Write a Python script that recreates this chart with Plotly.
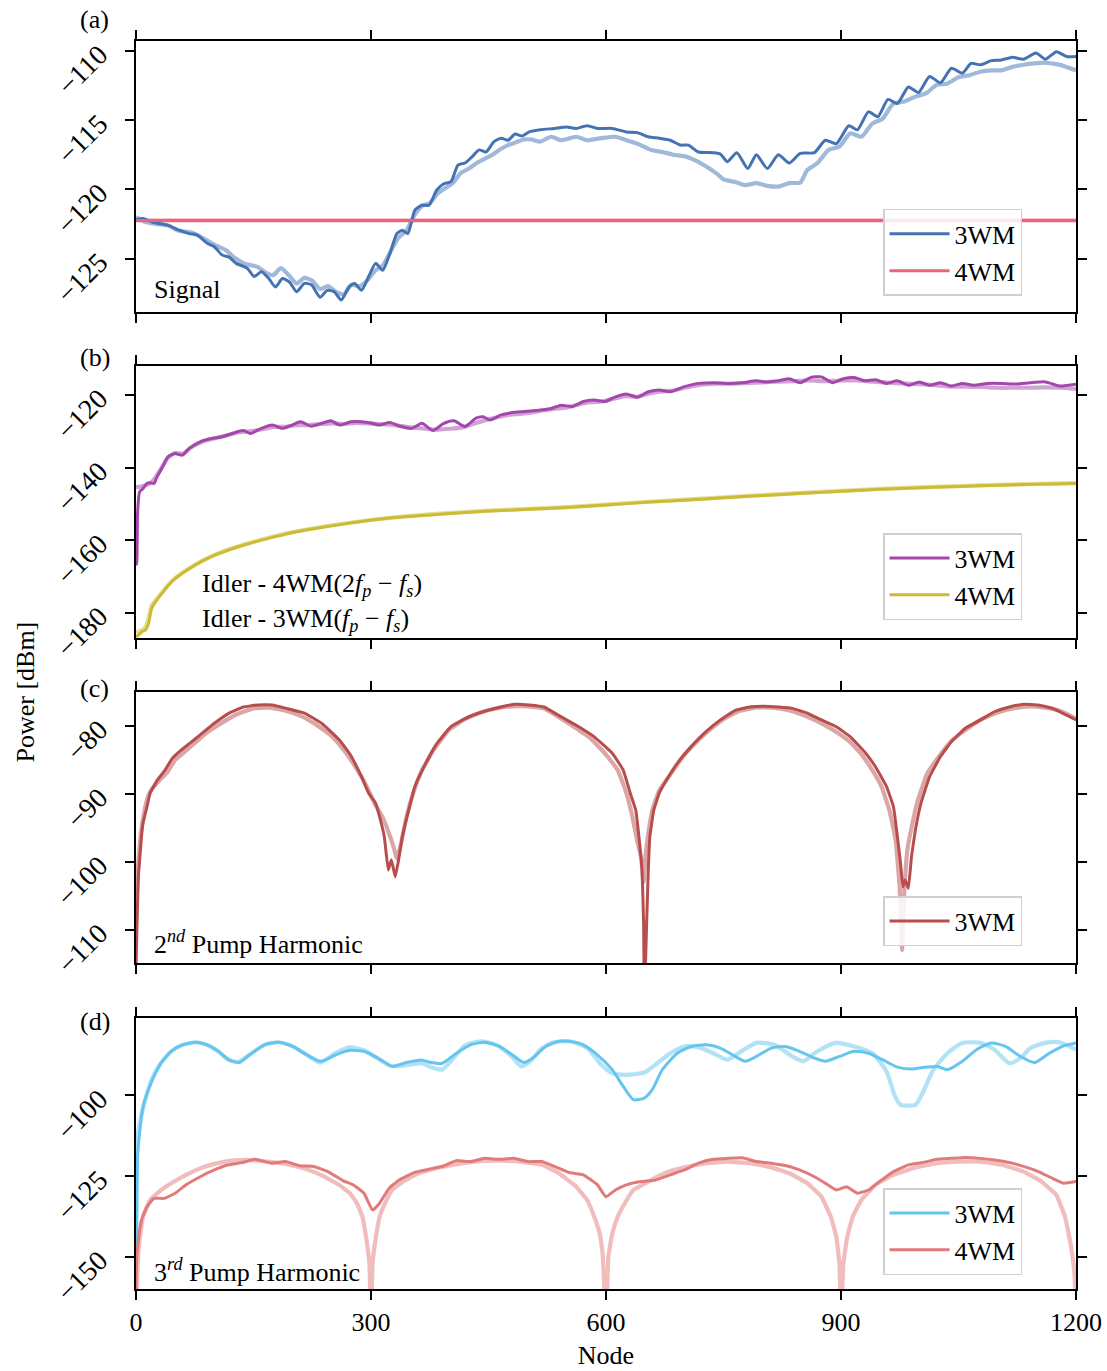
import plotly.graph_objects as go
from plotly.subplots import make_subplots

# ---------------- data (node, power dBm) ----------------
SIGNAL_3WM = [(0,-122.2),(9,-122.1),(23,-122.4),(41,-122.6),(55,-122.95),(68,-123.2),(78,-123.3),(91,-123.9),
    (100,-124.15),(110,-124.75),(119,-124.9),(128,-125.35),(142,-125.7),(151,-126.3),(160,-125.95),(169,-126.4),
    (178,-127.05),(187,-126.45),(196,-126.7),(205,-127.4),(215,-126.8),(224,-126.9),(235,-127.8),(244,-127.3),
    (253,-127.4),(262,-128.0),(272,-127.05),(279,-126.8),(288,-127.3),(297,-126.3),(306,-125.35),(315,-125.85),
    (324,-124.65),(333,-123.2),(340,-122.95),(347,-123.2),(356,-121.5),(365,-121.15),(374,-121.15),(384,-120.05),
    (393,-119.6),(402,-119.45),(411,-118.25),(420,-118.1),(429,-117.65),(438,-117.15),(447,-117.3),(457,-116.55),
    (466,-116.3),(475,-116.45),(484,-116.0),(493,-116.15),(502,-115.85),(516,-115.7),(534,-115.6),(550,-115.5),
    (562,-115.6),(576,-115.4),(589,-115.6),(608,-115.6),(626,-115.85),(640,-115.9),(654,-116.2),(668,-116.3),
    (682,-116.45),(695,-116.8),(705,-116.8),(718,-117.3),(737,-117.35),(746,-117.45),(755,-118.0),(767,-117.35),
    (781,-118.5),(792,-117.5),(806,-118.5),(820,-117.5),(834,-118.1),(848,-117.4),(866,-117.35),(880,-116.45),
    (894,-116.7),(910,-115.4),(921,-115.7),(935,-114.4),(947,-114.75),(960,-113.5),(972,-113.8),(986,-112.6),
    (999,-113.0),(1013,-111.85),(1027,-112.3),(1041,-111.25),(1055,-111.6),(1066,-110.9),(1078,-111.0),
    (1092,-110.7),(1105,-110.65),(1119,-110.45),(1133,-110.6),(1149,-110.15),(1161,-110.6),(1175,-110.05),
    (1188,-110.4),(1200,-110.4)]
SIGNAL_3WM_REF = [(0,-122.0),(10,-122.3),(25,-122.5),(40,-122.6),(55,-123.0),(70,-123.1),(85,-123.5),(100,-124.0),
    (115,-124.4),(125,-124.9),(140,-125.4),(155,-125.6),(165,-126.0),(175,-126.2),(185,-125.7),(195,-126.2),
    (205,-126.8),(215,-126.4),(225,-126.6),(235,-127.2),(245,-127.0),(255,-127.4),(265,-127.6),(275,-126.9),
    (285,-127.0),(295,-126.6),(305,-125.9),(315,-125.5),(325,-124.5),(335,-123.5),(345,-123.0),(355,-121.9),
    (365,-121.2),(375,-121.0),(385,-120.3),(395,-119.9),(405,-119.5),(415,-118.8),(425,-118.5),(435,-118.1),
    (445,-117.8),(455,-117.5),(465,-117.1),(475,-116.8),(485,-116.6),(495,-116.4),(505,-116.4),(516,-116.55),
    (530,-116.2),(543,-116.45),(562,-116.2),(576,-116.45),(594,-116.3),(612,-116.2),(626,-116.45),(640,-116.7),
    (658,-117.15),(672,-117.3),(686,-117.5),(700,-117.6),(714,-117.9),(728,-118.35),(741,-118.85),(751,-119.3),
    (764,-119.45),(778,-119.7),(792,-119.55),(806,-119.75),(820,-119.8),(834,-119.55),(848,-119.5),(857,-118.6),
    (870,-118.1),(884,-117.15),(898,-116.9),(912,-115.95),(926,-116.2),(940,-115.25),(953,-114.9),(967,-113.8),
    (981,-113.65),(995,-113.3),(1009,-113.05),(1022,-112.45),(1036,-112.35),(1050,-111.9),(1064,-111.75),
    (1078,-111.5),(1092,-111.4),(1105,-111.4),(1119,-111.15),(1133,-111.0),(1147,-110.9),(1161,-110.85),
    (1175,-110.95),(1188,-111.15),(1200,-111.4)]
SIGNAL_4WM = [(0,-122.25),(1200,-122.25)]
SIGNAL_4WM_REF = [(0,-122.25),(1200,-122.25)]

IDLER_3WM = [(0,-167.0),(1,-166.0),(2,-152.7),(4.6,-146.7),(9,-145.8),(14,-144.4),(18,-144.2),(23,-144.4),
    (27,-142.5),(34,-139.8),(41,-137.0),(50,-136.1),(59,-136.6),(68,-134.7),(82,-132.9),(96,-132.0),(110,-131.5),
    (123,-130.6),(137,-129.8),(146,-130.6),(160,-129.2),(174,-128.3),(187,-129.2),(199,-128.3),(210,-127.4),
    (224,-128.6),(237,-127.8),(249,-127.1),(260,-128.3),(274,-127.4),(288,-127.4),(301,-127.8),(311,-128.3),
    (324,-127.6),(338,-128.7),(352,-129.2),(365,-127.8),(379,-129.8),(393,-127.8),(406,-127.1),(420,-128.7),
    (434,-126.4),(443,-126.0),(452,-126.9),(466,-125.5),(479,-124.9),(493,-124.6),(511,-124.3),(530,-123.7),
    (543,-122.8),(557,-123.2),(571,-121.8),(585,-121.4),(599,-121.8),(612,-120.5),(626,-119.7),(640,-120.6),
    (654,-119.1),(668,-118.6),(682,-119.1),(700,-117.7),(718,-116.8),(737,-116.6),(755,-116.8),(774,-116.6),
    (792,-116.1),(806,-116.4),(820,-116.1),(834,-115.5),(848,-116.6),(861,-115.2),(875,-115.0),(889,-116.6),
    (903,-115.5),(917,-115.2),(930,-116.1),(944,-115.8),(958,-116.8),(972,-116.1),(986,-117.3),(1000,-116.4),
    (1013,-117.3),(1027,-116.6),(1041,-117.5),(1055,-116.8),(1069,-117.3),(1087,-116.8),(1105,-116.8),
    (1124,-117.0),(1142,-116.6),(1161,-116.4),(1179,-117.5),(1200,-117.0)]
IDLER_3WM_REF = [(0,-145.5),(10,-145.0),(20,-144.0),(30,-141.0),(40,-137.5),(50,-136.0),(60,-136.2),(70,-134.5),
    (85,-132.8),(100,-132.0),(115,-131.2),(130,-130.3),(145,-130.0),(160,-129.5),(175,-128.8),(190,-128.8),
    (205,-128.3),(220,-128.3),(235,-128.0),(250,-127.8),(265,-128.0),(280,-127.7),(295,-127.8),(310,-128.0),
    (325,-128.2),(340,-128.6),(355,-129.0),(370,-129.3),(385,-129.6),(400,-129.3),(415,-129.0),(430,-128.0),
    (445,-127.0),(460,-126.2),(475,-125.5),(490,-125.2),(505,-124.8),(520,-124.2),(535,-123.8),(550,-123.4),
    (565,-122.6),(580,-122.0),(595,-121.8),(610,-121.0),(625,-120.3),(640,-120.5),(655,-119.6),(670,-119.0),
    (685,-118.8),(700,-118.0),(720,-117.2),(740,-116.9),(760,-116.9),(780,-116.7),(800,-116.5),(820,-116.3),
    (840,-116.2),(860,-116.0),(880,-116.2),(900,-116.0),(920,-116.0),(940,-116.3),(960,-116.6),(980,-116.8),
    (1000,-117.0),(1020,-117.3),(1040,-117.7),(1060,-117.7),(1080,-117.8),(1100,-118.0),(1120,-118.0),
    (1140,-118.0),(1160,-117.9),(1180,-118.0),(1200,-118.3)]
IDLER_4WM = [(0,-186.7),(4,-186.0),(8,-185.2),(12,-184.8),(16,-183.0),(20,-178.8),(25,-177.0),(30,-175.5),
    (35,-174.2),(40,-172.8),(50,-170.6),(60,-169.0),(70,-167.6),(80,-166.3),(90,-165.2),(100,-164.2),
    (120,-162.6),(140,-161.2),(160,-160.0),(180,-158.9),(200,-157.9),(240,-156.4),(280,-155.1),(320,-154.0),
    (360,-153.3),(400,-152.7),(450,-152.0),(500,-151.5),(550,-151.0),(600,-150.3),(650,-149.6),(700,-149.0),
    (750,-148.3),(800,-147.7),(850,-147.1),(900,-146.5),(950,-146.0),(1000,-145.6),(1050,-145.2),(1100,-144.9),
    (1150,-144.6),(1200,-144.4)]
IDLER_4WM_REF = [(0,-185.5),(5,-185.0),(10,-184.5),(15,-182.5),(20,-178.0),(25,-176.6),(30,-175.3),(40,-172.6),
    (50,-170.5),(70,-167.5),(100,-164.1),(140,-161.1),(200,-157.8),(280,-155.0),(360,-153.2),(450,-151.9),
    (550,-150.9),(650,-149.5),(750,-148.2),(850,-147.0),(950,-145.9),(1050,-145.1),(1150,-144.5),(1200,-144.3)]

HARM2_3WM = [(0,-116.0),(1,-110.5),(3,-102.2),(5,-99.2),(7,-96.3),(9,-94.3),(14,-91.9),(18,-89.9),(27,-88.0),
    (37,-86.5),(46,-84.8),(55,-83.8),(68,-82.6),(82,-81.3),(100,-79.6),(119,-78.1),(137,-77.2),(155,-76.9),
    (174,-76.9),(192,-77.4),(215,-78.1),(237,-79.6),(260,-82.1),(274,-84.3),(288,-87.5),(297,-89.9),(306,-91.4),
    (311,-93.4),(317,-96.3),(322,-101.2),(326,-99.7),(331,-102.2),(336,-99.2),(340,-96.3),(347,-92.9),
    (356,-88.9),(370,-85.5),(384,-82.6),(402,-80.1),(420,-78.9),(443,-77.9),(466,-77.2),(484,-76.8),(502,-76.9),
    (521,-77.2),(539,-78.4),(562,-79.9),(585,-81.6),(608,-84.0),(622,-86.5),(631,-89.9),(638,-92.4),(642,-96.3),
    (646,-101.2),(648,-109.1),(649,-120.0),(652,-108.6),(654,-101.2),(656,-96.3),(661,-92.4),(668,-89.9),
    (677,-88.0),(691,-85.5),(709,-83.0),(728,-80.8),(746,-79.1),(765,-77.7),(783,-77.2),(801,-77.1),(820,-77.2),
    (838,-77.4),(857,-78.1),(875,-79.1),(894,-80.1),(912,-81.6),(930,-83.8),(944,-86.0),(958,-88.9),(967,-91.9),
    (972,-96.3),(976,-100.2),(979,-103.7),(982,-102.7),(986,-103.9),(990,-99.2),(995,-95.3),(1002,-91.4),
    (1013,-87.5),(1027,-84.5),(1041,-82.3),(1059,-80.3),(1078,-79.1),(1096,-77.9),(1115,-77.2),(1133,-76.8),
    (1152,-76.9),(1170,-77.4),(1188,-78.4),(1200,-79.1)]
HARM2_3WM_REF = [(0,-108.0),(3,-100.0),(6,-96.0),(10,-93.0),(15,-90.5),(20,-89.3),(30,-88.0),(40,-86.8),
    (50,-85.0),(60,-84.0),(75,-82.5),(90,-81.0),(110,-79.5),(130,-78.2),(150,-77.4),(170,-77.3),(190,-77.7),
    (210,-78.5),(230,-79.8),(250,-81.5),(265,-83.5),(280,-86.0),(295,-89.0),(305,-91.5),(315,-93.5),(322,-95.5),
    (328,-97.5),(333,-99.5),(338,-97.5),(345,-93.5),(355,-89.5),(365,-86.5),(380,-83.5),(400,-80.5),(420,-79.0),
    (440,-78.0),(460,-77.4),(480,-77.1),(500,-77.1),(520,-77.4),(540,-78.7),(560,-80.2),(580,-81.8),(600,-84.2),
    (615,-86.5),(625,-89.5),(633,-93.0),(640,-97.0),(645,-99.5),(648,-103.0),(651,-98.5),(655,-95.0),(660,-92.0),
    (668,-89.5),(680,-87.5),(695,-85.0),(710,-83.0),(730,-80.8),(750,-79.0),(770,-77.8),(790,-77.3),(810,-77.3),
    (830,-77.6),(850,-78.3),(870,-79.3),(890,-80.6),(910,-82.2),(925,-84.0),(940,-86.5),(952,-89.0),(962,-92.5),
    (970,-97.0),(975,-104.0),(978,-113.0),(981,-104.0),(985,-98.0),(990,-95.0),(998,-91.0),(1010,-87.0),
    (1025,-84.5),(1040,-82.3),(1060,-80.5),(1080,-79.0),(1100,-78.0),(1120,-77.4),(1140,-77.1),(1160,-77.3),
    (1180,-77.8),(1200,-78.9)]

HARM3_3WM = [(0,-150.0),(1,-139.6),(2,-118.9),(5,-110.7),(9,-103.4),(16,-98.2),(23,-94.1),(32,-90.0),(45,-86.3),
    (59,-84.3),(77,-83.5),(91,-84.3),(105,-86.3),(118,-88.9),(132,-89.8),(145,-87.4),(164,-84.3),(182,-83.5),
    (200,-84.8),(218,-87.4),(236,-89.4),(255,-87.4),(273,-86.0),(291,-86.3),(309,-88.4),(327,-91.0),(345,-89.8),
    (364,-89.0),(377,-89.8),(391,-90.0),(409,-86.9),(427,-84.3),(445,-83.5),(464,-84.8),(482,-87.7),(495,-89.8),
    (509,-87.9),(523,-84.8),(540,-83.2),(553,-83.2),(571,-84.3),(589,-87.4),(608,-92.0),(622,-97.2),(635,-101.3),
    (649,-100.8),(659,-98.2),(672,-92.0),(691,-86.9),(709,-84.8),(728,-84.3),(746,-85.3),(765,-87.9),(778,-89.4),
    (792,-87.9),(811,-85.3),(829,-84.8),(847,-86.3),(866,-88.4),(880,-89.4),(898,-87.9),(917,-86.3),(935,-86.9),
    (953,-88.9),(972,-91.2),(990,-91.8),(1009,-91.2),(1023,-91.0),(1036,-92.0),(1055,-89.4),(1073,-85.8),
    (1092,-83.7),(1110,-84.8),(1129,-87.9),(1147,-89.8),(1166,-86.9),(1184,-84.6),(1200,-83.7)]
HARM3_3WM_REF = [(0,-135.0),(2,-112.7),(10,-103.0),(20,-95.0),(30,-90.5),(45,-86.3),(60,-84.3),(77,-83.5),
    (90,-84.3),(105,-86.3),(118,-88.9),(130,-89.6),(145,-87.4),(164,-84.3),(182,-83.5),(200,-84.8),(218,-87.4),
    (235,-89.8),(255,-86.8),(273,-85.0),(291,-86.0),(309,-88.6),(325,-90.8),(345,-90.6),(364,-90.0),(380,-91.5),
    (391,-92.0),(405,-88.5),(420,-84.5),(440,-83.2),(460,-84.3),(480,-88.0),(492,-91.0),(505,-89.0),(516,-85.8),
    (530,-83.7),(553,-83.2),(576,-85.3),(594,-90.5),(608,-93.1),(626,-93.6),(649,-92.9),(663,-90.5),(682,-86.9),
    (700,-84.8),(718,-85.0),(737,-86.9),(755,-88.9),(769,-86.9),(792,-83.7),(815,-84.3),(838,-87.9),(852,-89.4),
    (870,-86.3),(893,-83.7),(917,-84.8),(940,-86.9),(958,-92.5),(969,-100.3),(976,-102.9),(995,-102.9),
    (1004,-99.3),(1018,-92.0),(1036,-86.9),(1055,-83.7),(1078,-83.7),(1096,-85.8),(1115,-90.0),(1129,-88.4),
    (1142,-85.3),(1161,-83.7),(1179,-83.5),(1200,-85.8)]
HARM3_4WM = [(0,-160.0),(1,-150.0),(4,-142.8),(7,-138.6),(14,-134.5),(23,-131.9),(36,-131.9),(50,-130.3),
    (64,-127.7),(82,-125.2),(100,-123.1),(118,-121.5),(136,-120.8),(152,-119.8),(173,-121.0),(191,-120.5),
    (209,-121.8),(227,-122.0),(245,-123.6),(264,-126.4),(277,-127.7),(291,-130.3),(302,-135.5),(311,-133.4),
    (323,-128.8),(336,-126.2),(355,-123.9),(373,-122.9),(391,-122.0),(409,-120.2),(427,-120.5),(445,-119.5),
    (464,-119.8),(482,-119.5),(500,-120.5),(518,-120.5),(534,-122.0),(553,-123.9),(571,-124.6),(589,-127.7),
    (600,-131.4),(612,-129.3),(626,-127.7),(645,-126.7),(663,-126.2),(682,-124.6),(700,-123.1),(718,-121.0),
    (737,-119.8),(755,-119.5),(774,-119.3),(792,-120.5),(811,-121.0),(834,-122.0),(847,-123.1),(866,-125.2),
    (880,-127.2),(894,-129.3),(907,-128.3),(921,-130.3),(935,-129.3),(949,-126.7),(967,-123.6),(986,-121.5),
    (1004,-120.8),(1023,-119.8),(1041,-119.5),(1059,-119.2),(1078,-119.5),(1096,-120.0),(1115,-120.8),
    (1133,-122.0),(1152,-123.6),(1170,-125.7),(1184,-127.2),(1200,-126.7)]
HARM3_4WM_REF = [(0,-170.0),(1,-159.3),(4,-145.9),(9,-137.6),(18,-132.4),(32,-129.3),(45,-127.2),(64,-124.6),
    (82,-122.6),(100,-121.2),(123,-120.2),(145,-120.0),(168,-120.5),(191,-121.2),(214,-122.6),(236,-124.6),
    (259,-127.7),(273,-130.3),(282,-133.4),(289,-137.6),(293,-142.8),(298,-152.1),(300,-170.0),(302,-152.1),
    (307,-142.8),(311,-137.6),(318,-133.4),(327,-129.3),(341,-126.7),(359,-124.3),(382,-122.6),(405,-121.5),
    (432,-120.5),(464,-120.2),(491,-120.5),(518,-121.5),(539,-124.0),(562,-128.3),(576,-132.4),(585,-137.6),
    (592,-142.8),(596,-150.0),(600,-170.0),(603,-150.0),(608,-142.8),(615,-137.6),(624,-133.4),(635,-129.3),
    (654,-126.7),(677,-123.9),(700,-122.3),(728,-121.0),(755,-120.5),(783,-121.0),(811,-122.3),(834,-124.1),
    (857,-127.2),(875,-131.4),(887,-137.6),(894,-143.8),(898,-152.1),(900,-170.0),(903,-152.1),(908,-143.8),
    (915,-137.6),(926,-132.4),(944,-127.7),(967,-124.6),(995,-122.3),(1023,-121.0),(1050,-120.5),(1078,-120.5),
    (1105,-121.5),(1133,-123.6),(1156,-126.7),(1175,-130.9),(1186,-137.6),(1193,-145.9),(1198,-155.2),
    (1200,-170.0)]

X_TICKS = [0, 300, 600, 900, 1200]
Y_TICKS = [[-125, -120, -115, -110], [-180, -160, -140, -120], [-110, -100, -90, -80], [-150, -125, -100]]
Y_RANGES = [[-128.86, -109.28], [-187.0, -112.0], [-114.95, -75.04], [-160.0, -76.0]]
PANEL_LABELS = ["(a)", "(b)", "(c)", "(d)"]

# ---------------- styling ----------------
FONT = "Liberation Serif"
FS = 26
C = dict(a3="#4473B3", a4="#E8657B", b3="#A447AC", b4="#CCBB33", c3="#B84D4D", d3="#66C5EE", d4="#E27A7A")


def rgba(hexc, a):
    h = hexc.lstrip("#")
    return "rgba(%d,%d,%d,%.2f)" % (int(h[0:2], 16), int(h[2:4], 16), int(h[4:6], 16), a)


fig = make_subplots(rows=4, cols=1, shared_xaxes=True)


def add(series, row, color, name=None, ref=False, legend=None, smooth=0.6):
    xs = [p[0] for p in series]
    ys = [p[1] for p in series]
    if ref:
        line = dict(color=rgba(color, 0.5), width=4.2)
    else:
        line = dict(color=color, width=3)
    if smooth:
        line.update(shape="spline", smoothing=smooth)
    fig.add_trace(go.Scatter(x=xs, y=ys, mode="lines", line=line, name=name,
                             showlegend=(name is not None), legend=legend,
                             hoverinfo="skip"), row=row, col=1)


add(SIGNAL_3WM_REF, 1, C["a3"], ref=True)
add(SIGNAL_4WM_REF, 1, C["a4"], ref=True, smooth=0)
add(SIGNAL_3WM, 1, C["a3"], "3WM", legend="legend")
add(SIGNAL_4WM, 1, C["a4"], "4WM", legend="legend", smooth=0)

add(IDLER_3WM_REF, 2, C["b3"], ref=True)
add(IDLER_4WM_REF, 2, C["b4"], ref=True)
add(IDLER_3WM, 2, C["b3"], "3WM", legend="legend2")
add(IDLER_4WM, 2, C["b4"], "4WM", legend="legend2")

add(HARM2_3WM_REF, 3, C["c3"], ref=True, smooth=0.3)
add(HARM2_3WM, 3, C["c3"], "3WM", legend="legend3", smooth=0.3)

add(HARM3_3WM_REF, 4, C["d3"], ref=True)
add(HARM3_4WM_REF, 4, C["d4"], ref=True, smooth=0.3)
add(HARM3_3WM, 4, C["d3"], "3WM", legend="legend4")
add(HARM3_4WM, 4, C["d4"], "4WM", legend="legend4", smooth=0.4)

domains = [[0.7829, 1.0], [0.5216, 0.7396], [0.2610, 0.4781], [0.0, 0.2171]]
axis_common = dict(showline=True, linecolor="black", linewidth=2, mirror="ticks", ticks="outside",
                   ticklen=9, tickwidth=2, tickcolor="black", showgrid=False, zeroline=False,
                   automargin=False)
for i in range(4):
    n = "" if i == 0 else str(i + 1)
    fig.layout["yaxis" + n].update(domain=domains[i], range=Y_RANGES[i], tickvals=Y_TICKS[i],
                                   tickangle=-45, ticklabelstandoff=20,
                                   tickfont=dict(family=FONT, size=28, color="black"), **axis_common)
    fig.layout["xaxis" + n].update(range=[0, 1200], tickvals=X_TICKS, showticklabels=(i == 3),
                                   tickfont=dict(family=FONT, size=FS, color="black"), **axis_common)
fig.layout.xaxis4.update(title=dict(text="Node", font=dict(family=FONT, size=FS, color="black"), standoff=10))

leg_common = dict(font=dict(family=FONT, size=FS, color="black"), bgcolor="rgba(255,255,255,0.85)",
                  bordercolor="#d0d0d0", borderwidth=1.5, xanchor="right", yanchor="bottom", x=0.9426,
                  tracegroupgap=0, itemwidth=60)
fig.update_layout(
    legend=dict(y=0.7957, **leg_common),
    legend2=dict(y=0.536, **leg_common),
    legend3=dict(y=0.2748, **leg_common),
    legend4=dict(y=0.0112, **leg_common),
)

ann = []
txt_font = dict(family=FONT, size=FS, color="black")
ann.append(dict(text="Signal", xref="x domain", yref="y domain", x=0.017, y=0.081,
                xanchor="left", yanchor="middle", showarrow=False, font=txt_font))
ann.append(dict(text="Idler - 4WM(2<i>f</i><sub><i>p</i></sub> − <i>f</i><sub><i>s</i></sub>)",
                xref="x2 domain", yref="y2 domain", x=0.068, y=0.195, xanchor="left", yanchor="middle",
                showarrow=False, font=txt_font))
ann.append(dict(text="Idler - 3WM(<i>f</i><sub><i>p</i></sub> − <i>f</i><sub><i>s</i></sub>)",
                xref="x2 domain", yref="y2 domain", x=0.068, y=0.066, xanchor="left", yanchor="middle",
                showarrow=False, font=txt_font))
ann.append(dict(text="2<sup><i>nd</i></sup> Pump Harmonic", xref="x3 domain", yref="y3 domain",
                x=0.017, y=0.075, xanchor="left", yanchor="middle", showarrow=False, font=txt_font))
ann.append(dict(text="3<sup><i>rd</i></sup> Pump Harmonic", xref="x4 domain", yref="y4 domain",
                x=0.017, y=0.07, xanchor="left", yanchor="middle", showarrow=False, font=txt_font))
label_y = [(1289 - 20) / 1248, (1289 - 357) / 1248, (1289 - 688) / 1248, (1289 - 1021) / 1248]
for lab, yy in zip(PANEL_LABELS, label_y):
    ann.append(dict(text=lab, xref="paper", yref="paper", x=-0.044, y=yy, xanchor="center",
                    yanchor="middle", showarrow=False, font=txt_font))
ann.append(dict(text="Power [dBm]", xref="paper", yref="paper", x=-0.118, y=0.478, textangle=-90,
                xanchor="center", yanchor="middle", showarrow=False, font=txt_font))

fig.update_layout(width=1107, height=1371, margin=dict(l=136, r=31, t=41, b=82),
                  paper_bgcolor="white", plot_bgcolor="white", annotations=ann,
                  font=dict(family=FONT, size=FS, color="black"))

fig.write_html("out.html")
